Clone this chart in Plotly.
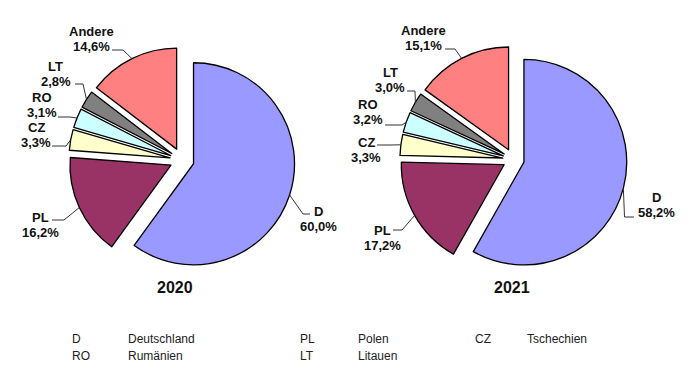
import math
import plotly.graph_objects as go

# ---------------- data ----------------
categories = ["D", "PL", "CZ", "RO", "LT", "Andere"]
values_2020 = [60.0, 16.2, 3.3, 3.1, 2.8, 14.6]
values_2021 = [58.2, 17.2, 3.3, 3.2, 3.0, 15.1]
years = ["2020", "2021"]
legend_codes = ["D", "PL", "CZ", "RO", "LT"]
legend_names = ["Deutschland", "Polen", "Tschechien", "Rumänien", "Litauen"]

# ---------------- styles / layout ----------------
OFF = 8  # page body margin
W, H = 700 - OFF, 379 - OFF
colors = ["#9999FF", "#993366", "#FFFFCC", "#CCFFFF", "#808080", "#FF8080"]
LABEL_FONT = "Arial, Liberation Sans, sans-serif"

pie_geom = [
    dict(cx=182.0, cy=160.0, r=101.0, pull=0.12),
    dict(cx=513.5, cy=159.4, r=102.8, pull=0.105),
]

# label block centre, elbow point, text-side end (screen pixels)
label_layout = [
    {
        "D": ((318, 219), (303, 214), (310, 214)),
        "PL": ((40, 225), (64, 220), (52, 220)),
        "CZ": ((36, 135), (66, 146), (52, 146)),
        "RO": ((42, 105), (70, 117), (58, 117)),
        "LT": ((56, 74), (83, 84), (75, 84)),
        "Andere": ((91, 39), (123, 50), (112, 50)),
    },
    {
        "D": ((656, 205), (624.5, 217), (634, 217)),
        "PL": ((382, 238), (402, 230), (393, 230)),
        "CZ": ((366, 150), (390, 145), (377, 145)),
        "RO": ((368, 112), (402, 125), (385, 125)),
        "LT": ((390, 80), (415, 91), (407, 91)),
        "Andere": ((423, 38), (455, 49), (445, 49)),
    },
]

legend_cols = [(70, 126), (298, 356), (473, 525)]
legend_rows = [339, 356]


def px(x):
    return (x - OFF) / W


def py(y):
    return 1 - (y - OFF) / H


def fmt(v):
    return f"{v:.1f}".replace(".", ",") + "%"


fig = go.Figure()
annotations = []
shapes = []

for vals, year, g, lay in zip([values_2020, values_2021], years, pie_geom, label_layout):
    box = 2 * g["r"] * (1 + g["pull"])
    dom_x = [px(g["cx"] - box / 2), px(g["cx"] + box / 2)]
    dom_y = [py(g["cy"] + box / 2), py(g["cy"] - box / 2)]
    fig.add_trace(go.Pie(
        labels=categories,
        values=vals,
        sort=False,
        direction="clockwise",
        rotation=0,
        pull=[g["pull"]] * len(vals),
        marker=dict(colors=colors, line=dict(color="#000000", width=1.3)),
        textinfo="none",
        hoverinfo="label+percent",
        showlegend=False,
        domain=dict(x=dom_x, y=dom_y),
    ))

    total = sum(vals)
    cum = 0.0
    for cat, v in zip(categories, vals):
        mid = (cum + v / 2) / total * 2 * math.pi
        cum += v
        rr = g["r"] * (1 + g["pull"])
        ex = g["cx"] + rr * math.sin(mid)
        ey = g["cy"] - rr * math.cos(mid)
        (tx, ty), (kx, ky), (sx, sy) = lay[cat]
        shapes.append(dict(
            type="path", xref="paper", yref="paper",
            path=f"M {px(ex)} {py(ey)} L {px(kx)} {py(ky)} L {px(sx)} {py(sy)}",
            line=dict(color="#333333", width=1),
        ))
        for txt, dy in ((cat, -7.5), (fmt(v), 7.5)):
            annotations.append(dict(
                x=px(tx), y=py(ty + dy), xref="paper", yref="paper",
                text=f"<b>{txt}</b>", showarrow=False,
                xanchor="center", yanchor="middle",
                font=dict(family=LABEL_FONT, size=13, color="#111111"),
            ))

    annotations.append(dict(
        x=px(g["cx"] - 7 if year == "2020" else g["cx"] - 1.5), y=py(287),
        xref="paper", yref="paper", text=f"<b>{year}</b>", showarrow=False,
        xanchor="center", yanchor="middle",
        font=dict(family=LABEL_FONT, size=16, color="#111111"),
    ))

for i, (code, name) in enumerate(zip(legend_codes, legend_names)):
    row = legend_rows[i // 3]
    cx_code, cx_name = legend_cols[i % 3]
    for txt, x in ((code, cx_code), (name, cx_name)):
        annotations.append(dict(
            x=px(x), y=py(row), xref="paper", yref="paper",
            text=txt, showarrow=False, xanchor="left", yanchor="middle",
            font=dict(family=LABEL_FONT, size=12, color="#222222"),
        ))

fig.update_layout(
    width=W, height=H,
    margin=dict(l=0, r=0, t=0, b=0),
    paper_bgcolor="white", plot_bgcolor="white",
    annotations=annotations, shapes=shapes,
)

fig.write_html("out.html")
